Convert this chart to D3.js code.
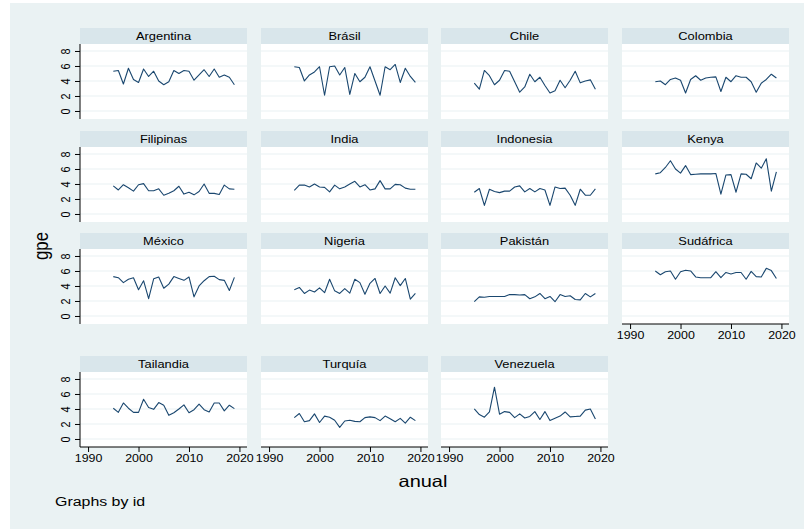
<!DOCTYPE html>
<html>
<head>
<meta charset="utf-8">
<script src="https://cdn.jsdelivr.net/npm/d3@7"></script>
<style>
  body { margin: 0; background: #fff; }
  text { font-family: "Liberation Sans", Arial, sans-serif; fill: #000; }
</style>
</head>
<body>
<script>
// Years and values per country
var years = d3.range(1995, 2020);

var argentina = [5.3,5.4,3.6,5.7,4.2,3.8,5.6,4.6,5.3,4.0,3.5,3.9,5.4,5.0,5.4,5.3,4.1,4.8,5.5,4.6,5.6,4.5,4.8,4.5,3.5];
var brasil    = [5.9,5.8,4.0,4.8,5.2,5.9,2.1,5.9,6.0,4.8,5.8,2.2,5.0,3.9,4.5,5.9,4.0,2.1,5.9,5.5,6.2,3.8,5.7,4.6,3.8];
var chile     = [3.7,2.9,5.4,4.7,3.5,4.1,5.4,5.3,3.9,2.5,3.2,4.9,3.9,4.5,3.4,2.4,2.7,4.1,3.1,4.1,5.3,3.75,4.0,4.15,2.9];
var colombia  = [3.9,4.0,3.5,4.2,4.4,4.1,2.4,4.2,4.7,4.1,4.4,4.5,4.55,2.6,4.5,3.9,4.7,4.5,4.5,3.9,2.5,3.7,4.2,4.9,4.4];
var filipinas = [3.75,3.2,3.9,3.5,3.05,3.9,4.05,3.1,3.1,3.35,2.5,2.75,3.1,3.7,2.65,2.9,2.55,3.0,4.0,2.75,2.75,2.6,3.85,3.35,3.3];
var india     = [3.15,3.85,3.85,3.6,4.0,3.6,3.55,2.95,3.85,3.35,3.6,4.0,4.35,3.6,3.9,3.2,3.35,4.45,3.35,3.35,3.95,3.9,3.45,3.3,3.3];
var indonesia = [2.9,3.4,1.15,3.3,3.0,2.85,3.05,3.05,3.6,3.75,2.95,3.4,2.95,3.4,3.2,1.15,3.6,3.4,3.45,2.5,1.15,3.3,2.5,2.5,3.35];
var kenya     = [5.35,5.5,6.2,7.1,6.0,5.45,6.45,5.25,5.3,5.35,5.35,5.35,5.4,2.65,5.2,5.25,2.9,5.35,5.3,4.7,6.8,6.1,7.35,3.05,5.6];
var mexico    = [5.25,5.1,4.45,4.9,5.1,3.5,4.7,2.3,4.95,5.2,3.7,4.25,5.25,5.0,4.75,5.2,2.55,4.0,4.7,5.25,5.3,4.85,4.75,3.4,5.15];
var nigeria   = [3.5,3.8,3.0,3.45,3.2,3.75,3.1,4.9,3.35,3.0,3.65,3.05,4.9,4.45,2.9,4.35,5.0,3.0,4.0,3.05,5.1,4.05,5.0,2.25,3.0];
var pakistan  = [1.9,2.55,2.5,2.6,2.6,2.6,2.6,2.85,2.85,2.8,2.85,2.3,2.55,3.0,2.3,2.6,1.9,2.85,2.6,2.7,2.2,2.15,3.0,2.55,3.0];
var sudafrica = [6.0,5.5,5.9,6.0,4.9,5.9,6.1,6.0,5.2,5.1,5.1,5.1,5.9,5.1,5.8,5.6,5.8,5.8,4.9,5.95,5.25,5.2,6.35,6.05,5.0];
var tailandia = [4.1,3.55,4.8,4.1,3.55,3.55,5.3,4.2,3.95,4.85,4.5,3.15,3.5,4.0,4.55,3.5,3.9,4.65,3.9,3.6,4.8,4.8,3.75,4.5,4.05];
var turquia   = [2.85,3.4,2.3,2.45,3.35,2.2,3.05,2.9,2.5,1.55,2.4,2.5,2.35,2.3,2.85,2.95,2.85,2.45,3.05,2.7,2.3,2.75,2.1,2.9,2.45];
var venezuela = [4.0,3.25,2.9,3.6,6.9,3.3,3.65,3.55,2.85,3.35,2.8,3.0,3.65,2.6,3.65,2.45,2.75,3.05,3.6,2.95,3.0,3.05,3.85,4.0,2.65];

var countries = ["Argentina","Brásil","Chile","Colombia","Filipinas","India","Indonesia","Kenya",
                 "México","Nigeria","Pakistán","Sudáfrica","Tailandia","Turquía","Venezuela"];
var series = [argentina, brasil, chile, colombia, filipinas, india, indonesia, kenya,
              mexico, nigeria, pakistan, sudafrica, tailandia, turquia, venezuela];

var yTicks = [0, 2, 4, 6, 8];
var xTicks = [1990, 2000, 2010, 2020];

// layout
var width = 804, height = 529;
var colX = [80, 261, 441, 622];
var rowY = [28, 131, 233, 356];
var panelW = 167, stripH = 16, plotH = 75;
var sx = 1.15; // the picture is a bit stretched sideways

var lineColor = "#1a476f";

var svg = d3.select("body").append("svg")
  .attr("width", width)
  .attr("height", height);

// graph region background
svg.append("rect")
  .attr("x", 10).attr("y", 3)
  .attr("width", width - 10).attr("height", height - 3)
  .attr("fill", "#eaf2f3");

var x = d3.scaleLinear().domain([1988.4, 2021.5]).range([0, panelW]);
var y = d3.scaleLinear().domain([-1.07, 8.93]).range([plotH, 0]);

var line = d3.line()
  .x(function(d, i) { return x(years[i]); })
  .y(function(d) { return y(d); });

function label(parent, tx, ty, str, size, anchor, k) {
  parent.append("g")
    .attr("transform", `translate(${tx}, ${ty}) scale(${k}, 1)`)
    .append("text")
    .attr("text-anchor", anchor)
    .attr("font-size", size)
    .text(str);
}

// bottom axis on panels with nothing below them
function hasXAxis(i) { return i + 4 >= countries.length; }

countries.forEach(function(name, i) {
  var col = i % 4, row = Math.floor(i / 4);
  var g = svg.append("g")
    .attr("transform", `translate(${colX[col]}, ${rowY[row]})`);

  // strip
  g.append("rect")
    .attr("width", panelW).attr("height", stripH)
    .attr("fill", "#d9e6eb");
  label(g, panelW / 2, stripH / 2 + 4.3, name, 11.6, "middle", 1.11);

  var p = g.append("g").attr("transform", `translate(0, ${stripH})`);
  p.append("rect")
    .attr("width", panelW).attr("height", plotH)
    .attr("fill", "#fff");

  // grid
  p.selectAll(".grid")
    .data(yTicks)
    .enter()
    .append("line")
    .attr("x1", 0).attr("x2", panelW)
    .attr("y1", d => y(d)).attr("y2", d => y(d))
    .attr("stroke", "#eaf2f3")
    .attr("stroke-width", 1.2);

  p.append("path")
    .datum(series[i])
    .attr("d", line)
    .attr("fill", "none")
    .attr("stroke", lineColor)
    .attr("stroke-width", 1.1)
    .attr("stroke-linejoin", "round");

  if (col === 0) {
    var ya = p.append("g")
      .call(d3.axisLeft(y).tickValues(yTicks).tickSize(5).tickSizeOuter(0));
    ya.select(".domain").attr("d", `M0,0V${plotH}`).attr("stroke", "#000");
    ya.selectAll(".tick line").attr("stroke", "#000");
    ya.selectAll(".tick text")
      .attr("font-size", 10.8)
      .attr("font-family", "Liberation Sans, Arial, sans-serif")
      .attr("transform", `translate(-14, 0) scale(${sx}, 1) rotate(-90)`)
      .attr("x", 0).attr("y", 0)
      .attr("dy", "0.35em")
      .attr("text-anchor", "middle");
  }

  if (hasXAxis(i)) {
    var xa = p.append("g")
      .attr("transform", `translate(0, ${plotH})`)
      .call(d3.axisBottom(x).tickValues(xTicks).tickFormat(d3.format("d")).tickSize(5).tickPadding(2).tickSizeOuter(0));
    xa.select(".domain").attr("d", `M0,0H${panelW}`).attr("stroke", "#000");
    xa.selectAll(".tick line").attr("stroke", "#000");
    xa.selectAll(".tick text")
      .attr("font-size", 10.8)
      .attr("font-family", "Liberation Sans, Arial, sans-serif")
      .attr("transform", `scale(${sx}, 1)`);
  }
});

// axis titles
svg.append("g")
  .attr("transform", `translate(48, 246) scale(1.2, 1) rotate(-90)`)
  .append("text")
  .attr("text-anchor", "middle")
  .attr("font-size", 16.8)
  .text("gpe");

label(svg, 423, 487, "anual", 16.5, "middle", 1.21);
label(svg, 55, 506, "Graphs by id", 13.5, "start", 1.18);
</script>
</body>
</html>
